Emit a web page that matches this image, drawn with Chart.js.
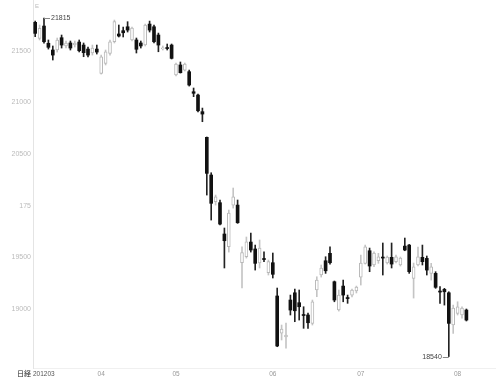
<!DOCTYPE html>
<html>
<head>
<meta charset="utf-8">
<script src="https://cdn.jsdelivr.net/npm/chart.js@4"></script>
<style>
html,body{margin:0;padding:0;background:#fff;}
#wrap{width:500px;height:377px;}
</style>
</head>
<body>
<div id="wrap"><canvas id="c" width="500" height="377"></canvas></div>
<script>
// ---- data ----
const opens  = [21775,21620,21739,21572,21507,21507,21626,21546,21575,21555,
                21584,21555,21516,21478,21516,21281,21378,21475,21587,21662,
                21694,21732,21604,21604,21575,21555,21758,21732,21652,21518,
                21531,21555,21265,21362,21313,21297,21103,21071,20910,20662,
                20297,20038,20029,19726,19603,20006,20006,19448,19506,19648,
                19581,19445,19488,19351,19448,19126,18767,18729,19087,19157,
                19061,18946,18942,18861,19184,19329,19467,19539,19264,18990,
                19222,19111,19135,19174,19309,19442,19564,19426,19467,19503,
                19445,19500,19458,19426,19609,19619,19297,19426,19500,19490,
                19345,19345,19174,19190,19157,18845,18958,18942,18990];
const highs  = [21787,21749,21815,21604,21546,21623,21652,21594,21594,21594,
                21604,21575,21536,21555,21555,21458,21507,21604,21797,21749,
                21729,21781,21729,21623,21594,21758,21787,21749,21671,21546,
                21565,21565,21381,21391,21381,21313,21139,21081,20945,20665,
                20319,20103,20055,19784,19958,20171,20055,19603,19697,19735,
                19619,19668,19554,19474,19542,19203,18845,18864,19135,19193,
                19184,19022,18961,19087,19312,19426,19506,19603,19271,19184,
                19280,19135,19193,19222,19522,19619,19590,19554,19539,19639,
                19513,19639,19522,19503,19687,19625,19445,19600,19619,19513,
                19442,19361,19216,19200,19167,19038,19070,19022,19000];
const lows   = [21636,21604,21574,21516,21410,21487,21526,21526,21507,21536,
                21488,21442,21439,21458,21468,21274,21362,21458,21575,21633,
                21633,21681,21594,21478,21526,21546,21681,21575,21490,21507,
                21507,21420,21255,21284,21304,21158,21055,20907,20813,20103,
                19861,20006,19813,19397,19551,19977,19829,19203,19493,19551,
                19377,19397,19458,19329,19300,18635,18700,18622,18942,18877,
                18893,18813,18813,18845,19119,19309,19345,19435,19070,18980,
                19070,19055,19116,19155,19232,19435,19361,19409,19442,19329,
                19435,19397,19445,19416,19564,19345,19106,19416,19426,19329,
                19280,19200,19055,19038,18540,18764,18942,18912,18884];
const closes = [21668,21717,21587,21533,21458,21604,21555,21575,21526,21575,
                21500,21481,21458,21526,21487,21442,21490,21587,21781,21642,
                21674,21700,21720,21514,21546,21749,21700,21587,21555,21526,
                21521,21426,21371,21287,21371,21168,21088,20919,20887,20313,
                20023,20087,19822,19661,19929,20087,19835,19545,19651,19571,
                19442,19590,19479,19458,19336,18642,18806,18748,18990,18983,
                19022,18937,18867,19070,19280,19397,19370,19448,19087,19135,
                19135,19101,19184,19213,19445,19603,19416,19542,19506,19493,
                19503,19435,19506,19493,19571,19361,19409,19506,19458,19377,
                19409,19210,19164,19167,18861,19009,19022,19009,18893];

const yTickValues = [19000, 19500, 20000, 20500, 21000, 21500];
const yTickLabels = ['19000', '19500', '175', '20500', '21000', '21500'];
const monthTickIndex  = [0, 15, 32, 54, 74, 96];
const monthTickLabels = ['201203', '04', '05', '06', '07', '08'];
const seriesName = '日経';
const unitLabel = 'E';
const highMarkIndex = 2;   // session carrying the period high (21815)
const lowMarkIndex = 94;   // session carrying the period low (18540)

// ---- chart ----
const sessions = opens.map((_, i) => i);
const isUp = i => closes[i] >= opens[i];

Chart.defaults.font.family = "'Liberation Sans', Arial, sans-serif";

const wickData = sessions.map(i => ({x: i, y: [lows[i], highs[i]]}));
const bodyData = sessions.map(i => ({x: i, y: [opens[i], closes[i]]}));

const extras = {
  id: 'extras',
  afterDraw(chart) {
    const {ctx, scales: {x, y}, chartArea} = chart;
    ctx.save();
    // unit label at the top of the value axis
    ctx.fillStyle = '#bbb';
    ctx.font = "6px 'Liberation Sans'";
    ctx.textAlign = 'left';
    ctx.textBaseline = 'top';
    ctx.fillText(unitLabel, chartArea.left + 2, 3);
    // series name at the left of the date axis
    ctx.fillStyle = '#222';
    ctx.font = "7px 'Noto Sans CJK JP'";
    ctx.textAlign = 'right';
    ctx.textBaseline = 'middle';
    ctx.fillText(seriesName, chartArea.left - 2, chartArea.bottom + 5);
    // high / low markers
    ctx.strokeStyle = '#888';
    ctx.lineWidth = 1;
    ctx.fillStyle = '#444';
    ctx.font = "7px 'Liberation Sans'";
    const hx = x.getPixelForValue(highMarkIndex), hy = Math.round(y.getPixelForValue(highs[highMarkIndex])) + 0.5;
    ctx.beginPath(); ctx.moveTo(hx, hy); ctx.lineTo(hx + 6, hy); ctx.stroke();
    ctx.textAlign = 'left';
    ctx.fillText(String(highs[highMarkIndex]), hx + 7, hy);
    const lx = x.getPixelForValue(lowMarkIndex), ly = Math.round(y.getPixelForValue(lows[lowMarkIndex])) + 0.5;
    ctx.beginPath(); ctx.moveTo(lx, ly); ctx.lineTo(lx - 6, ly); ctx.stroke();
    ctx.textAlign = 'right';
    ctx.fillText(String(lows[lowMarkIndex]), lx - 7, ly);
    ctx.restore();
  }
};

new Chart(document.getElementById('c'), {
  type: 'bar',
  data: {
    datasets: [
      {
        label: 'body',
        data: bodyData,
        order: 1,
        grouped: false,
        barThickness: 3,
        minBarLength: 1,
        borderSkipped: false,
        backgroundColor: ctx => isUp(ctx.dataIndex) ? '#ffffff' : '#111111',
        borderColor: ctx => isUp(ctx.dataIndex) ? '#b8b8b8' : '#111111',
        borderWidth: ctx => isUp(ctx.dataIndex) ? 1 : 0
      },
      {
        label: 'wick',
        data: wickData,
        order: 2,
        grouped: false,
        barThickness: 1,
        borderWidth: 0,
        backgroundColor: ctx => isUp(ctx.dataIndex) ? '#c4c4c4' : '#222222'
      }
    ]
  },
  options: {
    responsive: false,
    animation: false,
    layout: {padding: {top: 0, right: 5, bottom: 0, left: 0}},
    plugins: {legend: {display: false}, tooltip: {enabled: false}},
    scales: {
      x: {
        type: 'linear',
        offset: false,
        min: -0.5,
        max: 104.5,
        grid: {display: false, drawTicks: false},
        border: {display: true, color: '#f0f0f0'},
        afterFit: s => { s.height = 9; s.paddingLeft = 0; s.paddingRight = 0; },
        afterBuildTicks: s => {
          const t = monthTickIndex.map((v, k) => ({value: k === 0 ? s.min : v}));
          t.push({value: s.max});
          s.ticks = t;
        },
        ticks: {
          autoSkip: false,
          maxRotation: 0,
          padding: 2,
          align: 'inner',
          font: {size: 6.5},
          color: ctx => ctx.index === 0 ? '#555' : '#999',
          callback: (v, k) => monthTickLabels[k] || ''
        }
      },
      y: {
        type: 'linear',
        min: 18429,
        max: 21991,
        grid: {display: false, drawTicks: false},
        border: {display: true, color: '#e4e4e4'},
        afterFit: s => { s.width = 33; s.paddingTop = 0; s.paddingBottom = 0; },
        afterBuildTicks: s => { s.ticks = yTickValues.map(v => ({value: v})); },
        ticks: {
          padding: 2,
          font: {size: 7},
          color: '#bbb',
          callback: (v, k) => yTickLabels[k]
        }
      }
    }
  },
  plugins: [extras]
});
</script>
</body>
</html>
